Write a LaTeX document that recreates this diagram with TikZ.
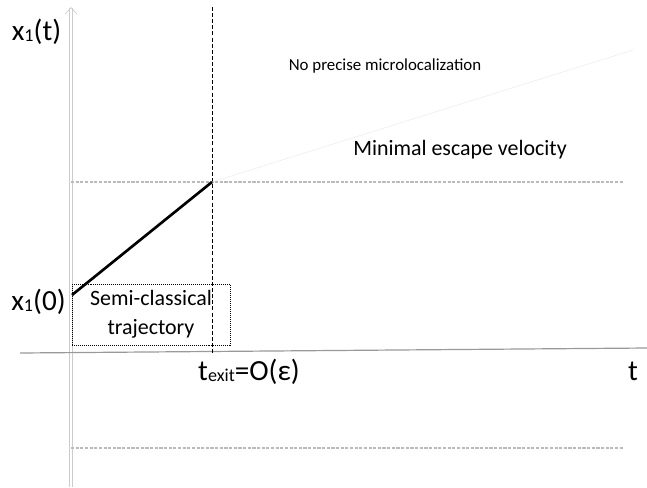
\documentclass[tikz,border=0pt]{standalone}
\usepackage{fontspec}
\setmainfont{Carlito}
\usepackage{graphicx}
\usetikzlibrary{arrows.meta,positioning,calc}

\newcommand{\lowsub}[1]{\raisebox{-0.04em}{\scalebox{0.62}{#1}}}

\begin{document}
\begin{tikzpicture}[
    x=0.02646cm, y=-0.02646cm,
    >=Latex,
    every node/.style={inner sep=0pt},
    biglabel/.style={font=\fontsize{22}{26}\selectfont,anchor=base},
    midlabel/.style={font=\fontsize{16.5}{21.5}\selectfont,anchor=base},
    smalllabel/.style={font=\fontsize{12.7}{15}\selectfont,anchor=base},
    axis/.style={draw=black!20,double=white,double distance=1.4pt,line width=0.5pt},
    haxis/.style={draw=black!40,line width=0.9pt},
    guide/.style={draw=black!27,line width=0.8pt,dash pattern=on 2.4pt off 1.1pt},
    exitline/.style={draw=black,line width=0.6pt,dash pattern=on 3pt off 1.6pt},
    traj/.style={draw=black,line width=2pt},
    semibox/.style={draw,densely dotted,line width=0.5pt,align=center,minimum width=4.18cm,minimum height=1.61cm,
        font=\fontsize{16.5}{21.5}\selectfont}
]
\useasboundingbox (0,0) rectangle (647,487);

% axes
\coordinate (ybot) at (71,487);
\coordinate (ytop) at (71,7);
\coordinate (tleft) at (20,353);
\coordinate (tright) at (647,348);
\draw[axis,-{Straight Barb[length=5pt,width=9pt]}] (ybot) -- (ytop);
\draw[haxis] (tleft) -- (tright);

% escape levels
\coordinate (hiL) at (71,182);
\coordinate (hiR) at (623,182);
\coordinate (loL) at (71,448);
\coordinate (loR) at (623,448);
\draw[guide] (hiL) -- (hiR);
\draw[guide] (loL) -- (loR);

% exit time and trajectory
\coordinate (start) at (72,295);
\coordinate (exit) at (212,182);
\coordinate (exittop) at (212,7);
\coordinate (exitbot) at (212,355);
\coordinate (cone) at (633,50);
\draw[exitline] (exittop) -- (exitbot);
\draw[black!8,line width=0.4pt] (exit) -- (cone);
\draw[traj] (start) -- (exit);

\node[semibox] (semi) at (151,314.5) {Semi-classical\\trajectory};

% labels
\node[biglabel] (xt) at (36.5,40) {x\lowsub{1}(t)};
\node[biglabel] (xz) at (38.5,310) {x\lowsub{1}(0)};
\node[biglabel] (texit) at (249,380) {t\lowsub{exit}=O(ε)};
\node[biglabel] (tlab) at (633,380) {t};
\node[smalllabel] (nomicro) at (385,70) {No precise microlocalization};
\node[midlabel] (minvel) at (460,155) {Minimal escape velocity};
\end{tikzpicture}
\end{document}
